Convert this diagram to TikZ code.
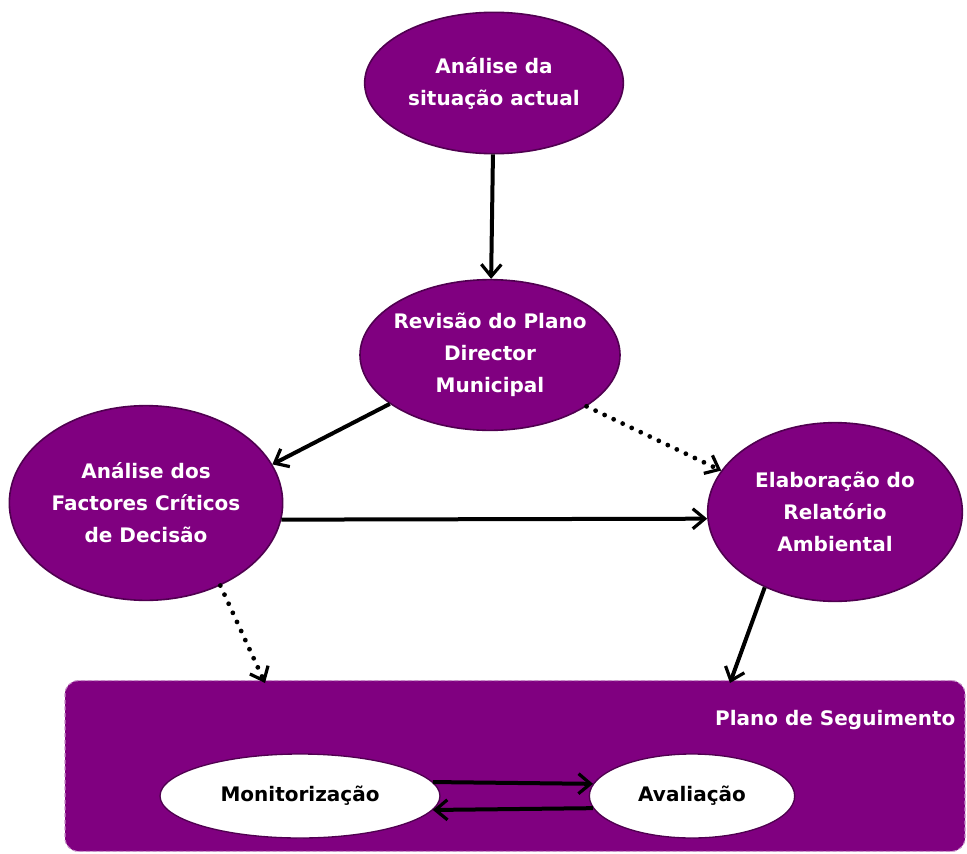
\documentclass[tikz,border=0pt]{standalone}
\usepackage{fontspec}
\setmainfont{DejaVu Sans}
\usepackage{tikz}
\usetikzlibrary{positioning, calc, arrows.meta, shapes.geometric}
\usepackage{color}
\definecolor{mainpurple}{RGB}{128, 0, 128}
\definecolor{edgepurple}{RGB}{80, 0, 80}

\begin{document}
\begin{tikzpicture}[x=0.75pt, y=-0.75pt, every node/.style={font=\bfseries\fontsize{15}{24}\selectfont}]
    \tikzstyle{stage} = [ellipse, fill=mainpurple, draw=edgepurple, line width=1.2pt, text=white, align=center, inner sep=-20pt]
    \tikzstyle{task} = [ellipse, fill=white, draw=edgepurple, line width=1pt, text=black, align=center, inner sep=-20pt]
    \tikzstyle{arrow} = [line width=3pt, -{Straight Barb[length=9pt, width=15pt, line width=2.4pt]}, draw=black]
    \tikzstyle{dotarrow} = [arrow, line width=3.6pt, line cap=round, dash pattern=on 0pt off 7.5pt]

    \useasboundingbox (0,0) rectangle (967,853);

    % Follow-up plan
    \node (plano) [rectangle, rounded corners=10pt, fill=mainpurple, draw=mainpurple!45, densely dashed, line width=0.8pt, minimum width=675pt, minimum height=128pt] at (515,766) {};
    \node (planolbl) [text=white, anchor=east] at (960,720) {Plano de Seguimento};
    \node (mon) [task, minimum width=210pt, minimum height=63pt] at (300,796) {Monitorização};
    \node (aval) [task, minimum width=154pt, minimum height=63pt] at (692,796) {Avaliação};

    % SEA stages
    \node (situacao) [stage, minimum width=194pt, minimum height=106pt] at (494,83) {Análise da\\situação actual};
    \node (revisao) [stage, minimum width=195pt, minimum height=113pt] at (490,355) {Revisão do Plano\\Director\\Municipal};
    \node (fcd) [stage, minimum width=205pt, minimum height=146pt] at (146,503) {Análise dos\\Factores Críticos\\de Decisão};
    \node (relatorio) [stage, minimum width=191pt, minimum height=134pt] at (835,512) {Elaboração do\\Relatório\\Ambiental};

    \coordinate (inFcd) at (265,683);
    \coordinate (inRel) at (730,683);

    % Arrows
    \draw [arrow] (situacao) -- (revisao);
    \draw [arrow] (revisao.206) -- (fcd.17);
    \draw [dotarrow] (revisao.332) -- (relatorio.160);
    \draw [arrow] (fcd.353) -- (relatorio.183.6);
    \draw [dotarrow] (fcd.312) -- (inFcd);
    \draw [arrow] (relatorio.227) -- (inRel);
    \draw [arrow] (mon.6) -- (aval.173);
    \draw [arrow] (aval.187) -- (mon.354);
\end{tikzpicture}
\end{document}
